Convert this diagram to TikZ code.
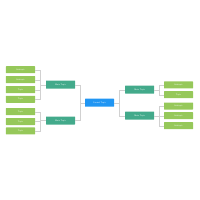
\documentclass[tikz,border=0pt]{standalone}
\usepackage{tikz}
\usetikzlibrary{positioning}

\definecolor{rootblue}{RGB}{33,150,243}
\definecolor{topicteal}{RGB}{67,170,139}
\definecolor{leafgreen}{RGB}{150,200,90}

\begin{document}
\begin{tikzpicture}[
    x=1mm, y=-1mm,
    root/.style={fill=rootblue, rounded corners=1pt, minimum width=29mm, minimum height=8mm, inner sep=0pt, text=white, font=\sffamily\fontsize{6}{7}\selectfont},
    topic/.style={fill=topicteal, rounded corners=1pt, minimum width=29mm, minimum height=8mm, inner sep=0pt, text=white, font=\sffamily\fontsize{6}{7}\selectfont},
    leaf/.style={fill=leafgreen, rounded corners=1pt, minimum width=29mm, minimum height=7mm, inner sep=0pt, text=white, font=\sffamily\fontsize{6}{7}\selectfont},
    link/.style={draw=black!18, line width=0.5pt}
]
\useasboundingbox (0,0) rectangle (200,200);

\node[root] (main) at (99.5,102.7) {Central Topic};

% left branch
\node[topic] (left1) at (60.5,84.6) {Main Topic};
\node[topic] (left2) at (60.5,120.5) {Main Topic};
\node[leaf] (la) at (20.5,69.7) {Subtopic};
\node[leaf] (lb) at (20.5,79.6) {Subtopic};
\node[leaf] (lc) at (20.5,89.6) {Topic};
\node[leaf] (ld) at (20.5,99.3) {Topic};
\node[leaf] (le) at (20.5,111.6) {Topic};
\node[leaf] (lf) at (20.5,121.5) {Topic};
\node[leaf] (lg) at (20.5,130.9) {Topic};

% right branch
\node[topic] (right1) at (139.7,89.6) {Main Topic};
\node[topic] (right2) at (139.7,115.6) {Main Topic};
\node[leaf] (ra) at (178.5,84.9) {Subtopic};
\node[leaf] (rb) at (178.5,94.7) {Topic};
\node[leaf] (rc) at (178.5,106) {Subtopic};
\node[leaf] (rd) at (178.5,115.7) {Subtopic};
\node[leaf] (re) at (178.5,125.7) {Subtopic};

\draw[link] (main.west) -- ++(-5,0) |- (left1.east);
\draw[link] (main.west) -- ++(-5,0) |- (left2.east);
\draw[link] (main.east) -- ++(5.5,0) |- (right1.west);
\draw[link] (main.east) -- ++(5.5,0) |- (right2.west);

\foreach \n in {la,lb,lc,ld}
  \draw[link] (left1.west) -- ++(-5.5,0) |- (\n.east);
\foreach \n in {le,lf,lg}
  \draw[link] (left2.west) -- ++(-5.5,0) |- (\n.east);
\foreach \n in {ra,rb}
  \draw[link] (right1.east) -- ++(5,0) |- (\n.west);
\foreach \n in {rc,rd,re}
  \draw[link] (right2.east) -- ++(5,0) |- (\n.west);
\end{tikzpicture}
\end{document}
